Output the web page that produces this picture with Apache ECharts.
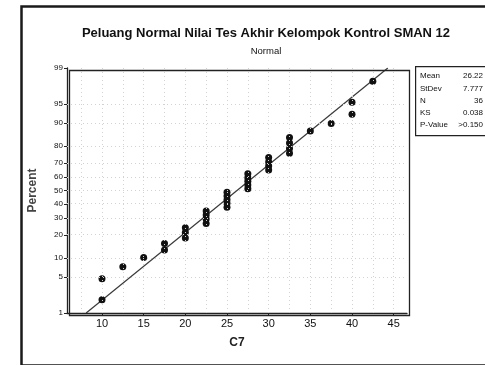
<!DOCTYPE html>
<html>
<head>
<meta charset="utf-8">
<script src="https://cdn.jsdelivr.net/npm/echarts@6/dist/echarts.min.js"></script>
<style>
  html, body { margin: 0; padding: 0; background: #fff; }
  #chart { width: 485px; height: 365px; }
</style>
</head>
<body>
<div id="chart"></div>
<script>
// nilai C7 (urut) dan persen peluang yang terbaca dari gambar
const scores = [10, 10, 12.5, 15, 17.5, 17.5, 20, 20, 20, 22.5, 22.5, 22.5, 22.5,
  25, 25, 25, 25, 25, 27.5, 27.5, 27.5, 27.5, 27.5, 30, 30, 30, 30,
  32.5, 32.5, 32.5, 32.5, 35, 37.5, 40, 40, 42.5];
const percents = [1.9, 4.7, 7.4, 10.2, 12.9, 15.7, 18.4, 21.2, 23.9, 26.6, 29.4, 32.1, 34.9,
  37.6, 40.4, 43.1, 45.9, 48.6, 51.4, 54.1, 56.9, 59.6, 62.4, 65.1, 67.9, 70.6, 73.4,
  76.1, 78.8, 81.6, 84.3, 87.1, 89.8, 92.6, 95.3, 98.1];
// garis fit (ujung bawah 1%, ujung atas 99%)
const fitX = [8.1, 44.3];
const fitP = [1, 99];
const percentTicks = [1, 5, 10, 20, 30, 40, 50, 60, 70, 80, 90, 95, 99];
const xTicks = [10, 15, 20, 25, 30, 35, 40, 45];
const xGrid = [7.5, 10, 12.5, 15, 17.5, 20, 22.5, 25, 27.5, 30, 32.5, 35, 37.5, 40, 42.5, 45];
const statNames = ['Mean', 'StDev', 'N', 'KS', 'P-Value'];
const statValues = ['26.22', '7.777', '36', '0.038', '>0.150'];

// skala peluang normal (probit), percent -> z
function probit(p) {
  const a = [-3.969683028665376e+01, 2.209460984245205e+02, -2.759285104469687e+02, 1.383577518672690e+02, -3.066479806614716e+01, 2.506628277459239e+00];
  const b = [-5.447609879822406e+01, 1.615858368580409e+02, -1.556989798598866e+02, 6.680131188771972e+01, -1.328068155288572e+01];
  const c = [-7.784894002430293e-03, -3.223964580411365e-01, -2.400758277161838e+00, -2.549732539343734e+00, 4.374664141464968e+00, 2.938163982698783e+00];
  const d = [7.784695709041462e-03, 3.224671290700398e-01, 2.445134137142996e+00, 3.754408661907416e+00];
  const pl = 0.02425;
  let q, r;
  if (p < pl) {
    q = Math.sqrt(-2 * Math.log(p));
    return (((((c[0]*q+c[1])*q+c[2])*q+c[3])*q+c[4])*q+c[5]) / ((((d[0]*q+d[1])*q+d[2])*q+d[3])*q+1);
  }
  if (p > 1 - pl) {
    q = Math.sqrt(-2 * Math.log(1 - p));
    return -(((((c[0]*q+c[1])*q+c[2])*q+c[3])*q+c[4])*q+c[5]) / ((((d[0]*q+d[1])*q+d[2])*q+d[3])*q+1);
  }
  q = p - 0.5; r = q * q;
  return (((((a[0]*r+a[1])*r+a[2])*r+a[3])*r+a[4])*r+a[5])*q / (((((b[0]*r+b[1])*r+b[2])*r+b[3])*r+b[4])*r+1);
}
const z = p => probit(p / 100);
const tickZ = percentTicks.map(z);
const zMin = z(1), zMax = z(99);

const font = "'Liberation Sans', Arial, sans-serif";
const chart = echarts.init(document.getElementById('chart'));

const gridLine = { color: '#d2d2d2', width: 1, type: [1, 3] };

const statTexts = [];
statNames.forEach((name, i) => {
  statTexts.push({
    type: 'text', left: 420, top: 72 + i * 12.3,
    style: { text: name, font: '8px ' + font, fill: '#111' }
  });
  statTexts.push({
    type: 'text', x: 483, y: 72 + i * 12.3,
    style: { text: statValues[i], font: '8px ' + font, fill: '#111', textAlign: 'right' }
  });
});

chart.setOption({
  animation: false,
  aria: { enabled: false, decal: { show: false } },
  backgroundColor: '#fff',
  title: [
    {
      text: 'Peluang Normal Nilai Tes Akhir Kelompok Kontrol SMAN 12',
      left: 261, top: 22, textAlign: 'center',
      textStyle: { fontFamily: font, fontSize: 13, fontWeight: 'bold', color: '#111' }
    },
    {
      text: 'Normal',
      left: 261, top: 41, textAlign: 'center',
      textStyle: { fontFamily: font, fontSize: 9.5, fontWeight: 'normal', color: '#111' }
    }
  ],
  grid: { left: 67, right: 78, top: 68, bottom: 52, show: false },
  xAxis: {
    type: 'value', min: 5.8, max: 46.6,
    name: 'C7', nameLocation: 'middle', nameGap: 24,
    nameTextStyle: { fontFamily: font, fontSize: 12, fontWeight: 'bold', color: '#222' },
    axisLine: { show: true, onZero: false, lineStyle: { color: '#222', width: 1.3 } },
    axisTick: { show: true, length: 3, customValues: xTicks, lineStyle: { color: '#222' } },
    axisLabel: { customValues: xTicks, fontFamily: font, fontSize: 11, color: '#111', margin: 5 },
    splitLine: { show: false }
  },
  yAxis: {
    type: 'value', min: zMin, max: zMax,
    name: 'Percent', nameLocation: 'middle', nameGap: 28,
    nameTextStyle: { fontFamily: font, fontSize: 12, fontWeight: 'bold', color: '#444' },
    axisLine: { show: true, onZero: false, lineStyle: { color: '#222', width: 1.3 } },
    axisTick: { show: true, length: 3, customValues: tickZ, lineStyle: { color: '#222' } },
    axisLabel: {
      customValues: tickZ, fontFamily: font, fontSize: 8, color: '#111', margin: 4,
      formatter: v => {
        let best = 0;
        tickZ.forEach((t, i) => { if (Math.abs(t - v) < Math.abs(tickZ[best] - v)) best = i; });
        return String(percentTicks[best]);
      }
    },
    splitLine: { show: false }
  },
  series: [
    {
      type: 'line',
      data: [],
      z: 1,
      markLine: {
        silent: true, symbol: ['none', 'none'], label: { show: false },
        lineStyle: gridLine,
        data: xGrid.map(v => ({ xAxis: v })).concat(tickZ.slice(1, -1).map(v => ({ yAxis: v })))
      }
    },
    {
      type: 'line',
      data: fitX.map((x, i) => [x, z(fitP[i])]),
      symbol: 'none',
      lineStyle: { color: '#3a3a3a', width: 1.2 },
      z: 3
    },
    {
      // titik data: seri garis tanpa garis, hanya simbol
      type: 'line',
      data: scores.map((s, i) => [s, z(percents[i])]),
      showSymbol: true, showAllSymbol: true,
      symbol: 'circle', symbolSize: 7,
      lineStyle: { width: 0, opacity: 0 },
      itemStyle: { color: '#111', borderWidth: 0, opacity: 1 },
      emphasis: { disabled: true },
      z: 4
    }
  ],
  graphic: [
    {
      type: 'rect', left: 67, top: 68, z: 10, silent: true,
      shape: { width: 340, height: 245 },
      style: { fill: 'none', stroke: '#222', lineWidth: 1.3 }
    },
    {
      type: 'rect', left: 415, top: 66, z: 10,
      shape: { width: 90, height: 69 },
      style: { fill: '#fff', stroke: '#222', lineWidth: 1.2 }
    },
    {
      type: 'rect', left: 19, top: 4, z: 10, silent: true,
      shape: { width: 480, height: 359 },
      style: { fill: 'none', stroke: '#1a1a1a', lineWidth: 2.5 }
    }
  ].concat(statTexts.map(t => Object.assign({ z: 11 }, t)))
});
</script>
</body>
</html>
